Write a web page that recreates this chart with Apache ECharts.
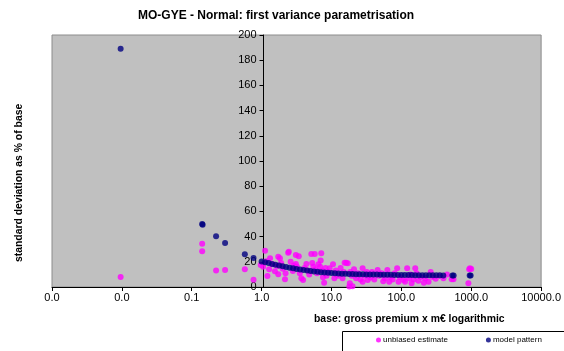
<!DOCTYPE html>
<html>
<head>
<meta charset="utf-8">
<script src="https://cdn.jsdelivr.net/npm/echarts@6/dist/echarts.min.js"></script>
<style>
  html, body { margin: 0; padding: 0; background: #fff; }
  #chart { width: 564px; height: 351px; }
</style>
</head>
<body>
<div id="chart"></div>
<script>
// series: [gross premium (m€), standard deviation as % of base]
const unbiasedEstimate = [
  [0.0096, 8], [0.141, 34.4], [0.141, 28.3], [0.223, 13], [0.30, 13.5], [0.575, 14], [0.766, 5.8],
  [0.97, 17.5], [1.05, 16], [1.12, 28.8], [1.15, 20.5], [1.21, 8.7], [1.28, 14], [1.32, 22.8],
  [1.45, 18], [1.55, 12.5], [1.68, 16.7], [1.73, 10.1], [1.73, 24], [1.83, 22.8], [1.9, 19],
  [2.0, 14.5], [2.16, 6.1], [2.2, 11], [2.4, 27.2], [2.45, 28], [2.6, 20], [2.8, 12.7], [2.9, 17],
  [3.09, 25.4], [3.09, 18.3], [3.2, 16], [3.4, 24.5], [3.52, 10.9], [3.7, 6.9], [3.92, 5.6],
  [4.1, 15], [4.37, 18.3], [4.6, 13], [4.8, 10], [5.14, 26.2], [5.3, 19], [5.5, 16], [5.75, 26.2],
  [5.9, 14], [6.2, 11], [6.5, 18], [6.88, 16.1], [7.14, 26.7], [7.0, 21], [7.3, 13], [7.55, 7.7],
  [7.85, 3.4], [8.2, 15], [8.5, 9], [9.0, 12], [9.4, 14.8],
  [10.5, 18], [11, 6.9], [11.5, 13], [12.5, 9], [13.5, 15], [14.4, 6.9], [15, 12], [15.4, 19.3],
  [16.2, 19.3], [17.1, 18.8], [18, 0.3], [18.3, 2.9], [18.5, 12], [19.5, 9], [20, 0.5], [21, 14],
  [22.5, 7], [24, 11], [26, 6], [27.9, 14.8], [27.9, 4.2], [30, 9], [32, 12],
  [33, 5.6], [36, 7.5], [38, 12], [41, 6], [45.7, 13.5], [48, 9], [52, 11], [55, 4.5], [58, 7],
  [63, 13.5], [67, 4.2], [70, 8], [75, 6], [80, 11], [87, 14.8], [91, 4.2], [95, 8],
  [107, 5.6], [113, 4.2], [121, 14.8], [128, 7], [135, 10], [140, 2.9], [150, 6], [158, 14.8],
  [165, 11], [175, 5], [190, 8], [210, 3.4], [220, 7], [245, 4.2], [263, 12], [280, 8], [310, 6.5],
  [350, 9], [400, 6.9], [450, 10], [525, 6.1], [557, 6.1],
  [910, 2.9], [934, 14], [960, 14.8], [1000, 14.3]
];

const modelPattern = [
  [0.0096, 189], [0.141, 50], [0.143, 49.5], [0.223, 40.2], [0.30, 35], [0.575, 26], [0.766, 23],
  [1.0, 20.3], [1.12, 19.6], [1.26, 19.0], [1.41, 18.3], [1.58, 17.6], [1.78, 17.0], [2.0, 16.4],
  [2.24, 15.8], [2.51, 15.3], [2.82, 14.8], [3.16, 14.3], [3.55, 13.9], [3.98, 13.5], [4.47, 13.1],
  [5.01, 12.7], [5.62, 12.4], [6.31, 12.1], [7.08, 11.8], [7.94, 11.5], [8.91, 11.3], [10.0, 11.1],
  [11.2, 10.9], [12.6, 10.8], [14.1, 10.6], [15.8, 10.5], [17.8, 10.4], [20.0, 10.3], [22.4, 10.2],
  [25.1, 10.1], [28.2, 10.05], [31.6, 10.0], [35.5, 9.95], [39.8, 9.9], [44.7, 9.85], [50.1, 9.8],
  [56.2, 9.75], [63.1, 9.7], [70.8, 9.65], [79.4, 9.6], [89.1, 9.55], [100, 9.5], [112, 9.5],
  [126, 9.5], [141, 9.45], [158, 9.4], [178, 9.4], [200, 9.4], [224, 9.35], [251, 9.3], [282, 9.3],
  [316, 9.3], [355, 9.25], [398, 9.2], [537, 9.1], [560, 9.1], [950, 9.1], [980, 9.1]
];

const xRange = [0.001, 10000];
const yRange = [0, 200];
const yStep = 20;

const chart = echarts.init(document.getElementById('chart'));

const option = {
  animation: false,
  title: {
    text: 'MO-GYE - Normal: first variance parametrisation',
    left: 133,
    top: 5,
    textStyle: { fontFamily: 'Liberation Sans, Arial', fontSize: 12, fontWeight: 'bold', color: '#000' }
  },
  grid: {
    left: 52, right: 19, top: 35, bottom: 64,
    show: true,
    backgroundColor: '#c0c0c0',
    borderColor: '#8c8c8c',
    borderWidth: 1
  },
  legend: {
    left: 376,
    top: 336,
    itemWidth: 5,
    itemHeight: 5,
    itemGap: 38,
    padding: 0,
    textStyle: { fontFamily: 'Liberation Sans, Arial', fontSize: 8, color: '#000', padding: [0, 0, 0, -3] },
    data: [
      { name: 'unbiased estimate', icon: 'circle' },
      { name: 'model pattern', icon: 'circle' }
    ]
  },
  xAxis: {
    type: 'log',
    logBase: 10,
    min: xRange[0],
    max: xRange[1],
    axisLine: { onZero: false, lineStyle: { color: '#000', width: 1 } },
    axisTick: { show: true, inside: false, length: 4, lineStyle: { color: '#000' } },
    axisLabel: {
      fontFamily: 'Liberation Sans, Arial', fontSize: 11, color: '#000', margin: 5,
      formatter: v => v.toFixed(1)
    },
    splitLine: { show: false },
    minorTick: { show: false }
  },
  yAxis: {
    type: 'value',
    min: yRange[0],
    max: yRange[1],
    interval: yStep,
    position: 'left',
    offset: -211.5,
    axisLine: { show: true, onZero: false, lineStyle: { color: '#000', width: 1 } },
    axisTick: { show: true, inside: false, length: 4, lineStyle: { color: '#000' } },
    axisLabel: { fontFamily: 'Liberation Sans, Arial', fontSize: 11, color: '#000', margin: 7 },
    splitLine: { show: false }
  },
  graphic: [
    {
      type: 'text',
      left: 314,
      top: 314,
      style: {
        text: 'base: gross premium x m€ logarithmic',
        font: 'bold 10.4px "Liberation Sans", Arial',
        fill: '#000'
      }
    },
    {
      type: 'text',
      x: 14,
      y: 262,
      rotation: Math.PI / 2,
      style: {
        text: 'standard deviation as % of base',
        font: 'bold 10.4px "Liberation Sans", Arial',
        fill: '#000'
      }
    },
    {
      type: 'rect',
      shape: { x: 342.5, y: 331.5, width: 230, height: 30 },
      style: { fill: '#fff', stroke: '#000', lineWidth: 1 },
      z: -1
    }
  ],
  series: [
    {
      name: 'unbiased estimate',
      type: 'scatter',
      data: unbiasedEstimate,
      symbol: 'circle',
      symbolSize: 6,
      itemStyle: { color: '#ff00ff' }
    },
    {
      name: 'model pattern',
      type: 'scatter',
      data: modelPattern,
      symbol: 'circle',
      symbolSize: 6,
      itemStyle: { color: '#000080' }
    }
  ]
};

chart.setOption(option);
</script>
</body>
</html>
